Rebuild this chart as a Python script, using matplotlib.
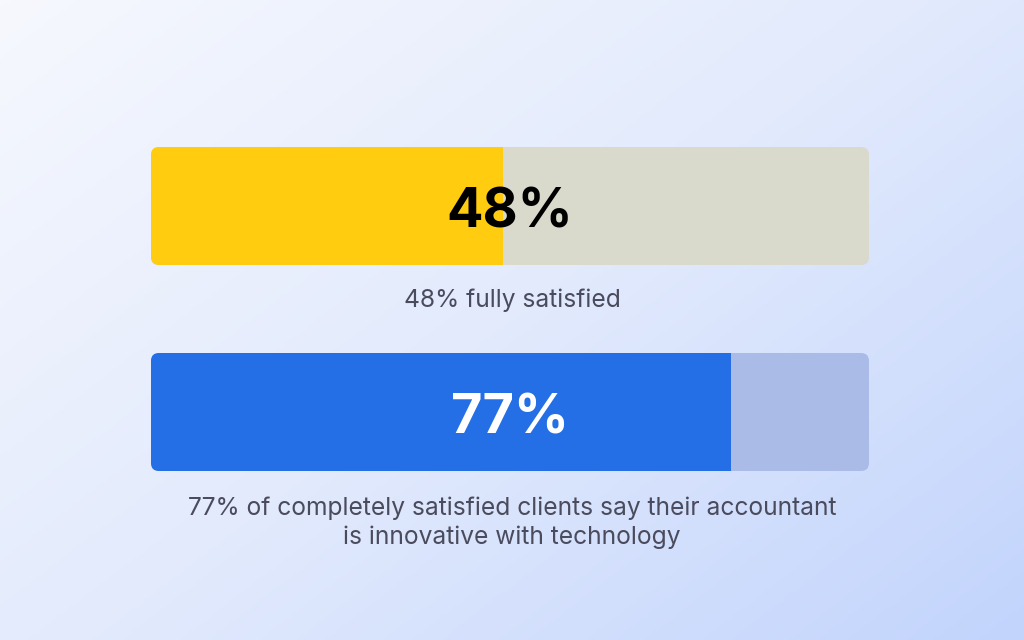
import numpy as np
import matplotlib
matplotlib.use("Agg")
import matplotlib.pyplot as plt
from matplotlib.patches import FancyBboxPatch
from matplotlib.colors import LinearSegmentedColormap

# ---- data ----
labels = ["48%", "77%"]
shown_values = [48, 77]                 # headline percentages
fill_lengths = [49.0, 80.8]             # fill length as drawn, % of track
track_max = 100
captions = ["48% fully satisfied",
            "77% of completely satisfied clients say their accountant\nis innovative with technology"]
fill_colors = ["#FFCC10", "#256FE6"]
track_colors = ["#D9D9CC", "#ABBBE8"]
value_colors = ["#000000", "#FFFFFF"]

W, H = 1024, 640
fig = plt.figure(figsize=(W / 100, H / 100), dpi=100)

# background gradient
bg = fig.add_axes([0, 0, 1, 1])
bg.set_axis_off()
yy, xx = np.mgrid[0:1:200j, 0:1:320j]
t = (xx * 0.55 + yy * 0.45)
cmap = LinearSegmentedColormap.from_list("bg", ["#F6F8FE", "#E2EAFC", "#C2D4FC"])
bg.imshow(t, cmap=cmap, aspect="auto", extent=[0, 1, 0, 1], origin="upper",
          vmin=0, vmax=1)
bg.set_xlim(0, 1); bg.set_ylim(0, 1)

# main axes in pixel-like coordinates
ax = fig.add_axes([0, 0, 1, 1])
ax.set_axis_off()
ax.patch.set_alpha(0)
left_px, right_px = 151, 869
ppu = (right_px - left_px) / track_max
ax.set_xlim(-left_px / ppu, (W - left_px) / ppu)
ax.set_ylim(H, 0)

centers = [206, 412]
bar_h = 118
radius_px = 8
for i in range(len(labels)):
    yc = centers[i]
    track = FancyBboxPatch((0, yc - bar_h / 2), track_max, bar_h,
                           boxstyle=f"round,pad=0,rounding_size={radius_px / ppu}",
                           mutation_aspect=ppu, facecolor=track_colors[i],
                           edgecolor="none", zorder=2)
    ax.add_patch(track)
    bars = ax.barh([yc], [fill_lengths[i]], height=bar_h, left=0,
                   color=fill_colors[i], zorder=3)
    for b in bars:
        b.set_clip_path(track)
    ax.text(track_max / 2, yc + 7, labels[i], ha="center", va="center",
            fontsize=39, fontweight="bold", color=value_colors[i],
            family=["Inter", "DejaVu Sans"], zorder=4)

ax.text(track_max / 2 + 2 / ppu, 300, captions[0], ha="center", va="center",
        fontsize=17.7, color="#4A4B5C", family=["Inter", "DejaVu Sans"])
ax.text(track_max / 2 + 2 / ppu, 523, captions[1], ha="center", va="center",
        fontsize=17.7, color="#4A4B5C", family=["Inter", "DejaVu Sans"],
        linespacing=1.3)

fig.savefig("out.png", dpi=100)
